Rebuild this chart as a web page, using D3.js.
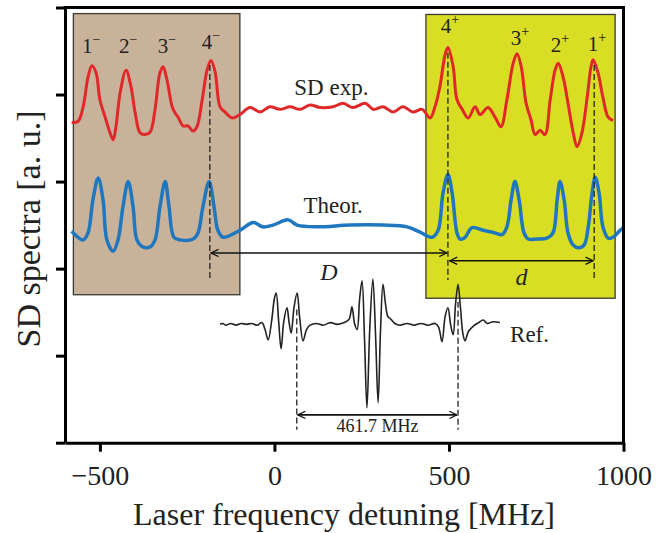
<!DOCTYPE html>
<html><head><meta charset="utf-8">
<script src="https://cdn.jsdelivr.net/npm/d3@7"></script>
<style>
html,body{margin:0;padding:0;background:#fff;}
svg text{font-family:"Liberation Serif","Times New Roman",serif !important;fill:#222;}
</style></head>
<body><svg id="c" width="656" height="533"></svg>
<script>
// ---- data (MHz, a.u.) ----
const xTicks = [-500, 0, 500, 1000];
const yTicks = [0, 1, 2, 3, 4, 5];

const sdExp = [[-581,3.68],[-563,3.69],[-548,3.86],[-534,4.20],[-523,4.33],[-511,4.25],[-500,3.94],[-485,3.74],[-471,3.56],[-462,3.48],[-454,3.63],[-442,4.02],[-425,4.28],[-411,4.09],[-399,3.79],[-385,3.56],[-371,3.54],[-356,3.57],[-342,3.83],[-328,4.25],[-319,4.32],[-308,4.17],[-293,3.86],[-285,3.79],[-276,3.74],[-262,3.64],[-248,3.64],[-233,3.58],[-222,3.63],[-207,3.94],[-193,4.28],[-182,4.39],[-170,4.26],[-156,3.86],[-142,3.80],[-121,3.73],[-99,3.77],[-70,3.85],[-41,3.80],[-13,3.86],[16,3.83],[45,3.86],[73,3.83],[102,3.88],[131,3.85],[168,3.86],[197,3.90],[225,3.85],[260,3.90],[283,3.83],[311,3.86],[340,3.80],[368,3.86],[397,3.80],[423,3.83],[446,3.73],[460,3.86],[474,4.09],[489,4.46],[497,4.54],[512,4.32],[523,3.94],[538,3.83],[555,3.73],[575,3.86],[589,3.77],[612,3.85],[632,3.74],[649,3.63],[666,3.94],[684,4.36],[695,4.47],[707,4.32],[721,3.90],[735,3.71],[747,3.54],[761,3.59],[775,3.54],[790,3.94],[804,4.28],[813,4.36],[827,4.20],[841,3.90],[856,3.56],[867,3.40],[881,3.56],[896,3.97],[907,4.32],[913,4.40],[927,4.25],[941,3.97],[956,3.74],[970,3.70]];

const theor = [[-581,2.43],[-548,2.33],[-534,2.41],[-520,2.79],[-505,3.04],[-491,2.79],[-480,2.33],[-462,2.20],[-448,2.33],[-434,2.71],[-419,3.00],[-405,2.71],[-394,2.33],[-377,2.25],[-356,2.25],[-342,2.33],[-328,2.71],[-313,3.00],[-302,2.71],[-288,2.36],[-271,2.33],[-233,2.34],[-219,2.41],[-205,2.71],[-187,3.00],[-173,2.71],[-162,2.44],[-147,2.36],[-99,2.44],[-61,2.53],[-33,2.48],[-4,2.50],[39,2.56],[65,2.50],[122,2.48],[217,2.50],[311,2.50],[380,2.48],[417,2.42],[452,2.36],[469,2.44],[483,2.87],[497,3.08],[509,2.87],[523,2.41],[532,2.34],[546,2.36],[566,2.47],[598,2.44],[632,2.41],[652,2.39],[666,2.48],[678,2.79],[689,3.00],[701,2.79],[715,2.41],[727,2.34],[752,2.34],[781,2.35],[798,2.41],[810,2.79],[818,3.00],[830,2.79],[841,2.41],[856,2.27],[870,2.24],[887,2.27],[899,2.48],[910,2.87],[919,3.05],[930,2.87],[941,2.48],[956,2.35],[970,2.36],[990,2.44],[1000,2.47]];

const refSpec = [[-156,1.36],[-148,1.37],[-140,1.35],[-125,1.37],[-110,1.35],[-95,1.37],[-80,1.36],[-65,1.37],[-50,1.35],[-36,1.38],[-27,1.30],[-18,1.18],[-8,1.40],[0,1.66],[5,1.72],[12,1.40],[19,1.08],[27,1.40],[36,1.55],[42,1.38],[48,1.26],[56,1.55],[65,1.72],[72,1.45],[82,1.17],[92,1.30],[102,1.35],[120,1.37],[140,1.35],[160,1.38],[180,1.36],[200,1.38],[214,1.42],[222,1.56],[230,1.36],[237,1.30],[244,1.65],[251,1.86],[258,1.20],[265,0.40],[273,1.30],[282,1.88],[290,1.20],[297,0.46],[304,1.30],[311,1.82],[318,1.60],[325,1.45],[331,1.43],[345,1.37],[360,1.35],[380,1.37],[400,1.35],[420,1.37],[440,1.35],[460,1.37],[470,1.33],[480,1.16],[489,1.45],[497,1.55],[505,1.35],[512,1.24],[519,1.60],[526,1.82],[533,1.55],[540,1.25],[546,1.17],[556,1.28],[570,1.34],[585,1.38],[598,1.41],[610,1.37],[626,1.39],[646,1.38]];

const boxMinus = [-576, -99, 1.70, 4.93];   // MHz from, MHz to, a.u. bottom, a.u. top
const boxPlus  = [434, 976, 1.66, 4.92];

const labelsMinus = ["1","2","3","4"];
const labelsMinusX = [-525, -419, -308, -182];
const labelsMinusY = [4.48, 4.48, 4.48, 4.52];
const labelsPlus = ["4","3","2","1"];
const labelsPlusX = [503, 703, 818, 924];
const labelsPlusY = [4.71, 4.57, 4.49, 4.50];

// dashed markers: [MHz, a.u. top, a.u. bottom]
const markers = [[-185,4.34,1.89],[497,4.48,1.87],[916,4.34,1.87],[64,1.53,0.15],[526,1.62,0.15]];
// spacing arrows: [from MHz, to MHz, a.u.]
const spanD = [-185, 497, 2.18];
const spand = [499, 916, 2.09];
const spanRef = [64, 526, 0.32];
const refSpacing = "461.7 MHz";

// ---- drawing ----
const FONT = '"Liberation Serif","Times New Roman",serif';
const svg = d3.select("#c");
const x = d3.scaleLinear().domain([-600, 1000]).range([65, 623.5]);
const y = d3.scaleLinear().domain([0, 5]).range([442.7, 7.5]);

svg.append("rect").attr("width",656).attr("height",533).attr("fill","#fff");

const defs = svg.append("defs");
defs.append("marker").attr("id","ah").attr("viewBox","0 0 10 10")
  .attr("refX",9.5).attr("refY",5).attr("markerWidth",9).attr("markerHeight",9)
  .attr("markerUnits","userSpaceOnUse").attr("orient","auto-start-reverse")
  .append("path").attr("d","M1,1 L9.5,5 L1,9").attr("fill","none").attr("stroke","#111").attr("stroke-width",1.4);

function box(b, fill){
  svg.append("rect").attr("x",x(b[0])).attr("y",y(b[3]))
    .attr("width",x(b[1])-x(b[0])).attr("height",y(b[2])-y(b[3]))
    .attr("fill",fill).attr("stroke","#3a3a30").attr("stroke-width",1.3);
}
box(boxMinus, "#c8b39a");
box(boxPlus, "#d9de24");

const line = d3.line().x(d=>x(d[0])).y(d=>y(d[1])).curve(d3.curveCatmullRom.alpha(0.5));
svg.append("path").datum(sdExp).attr("d",line).attr("fill","none").attr("stroke","#e0282a").attr("stroke-width",3).attr("stroke-linejoin","round");
svg.append("path").datum(theor).attr("d",line).attr("fill","none").attr("stroke","#1f78bf").attr("stroke-width",3.5).attr("stroke-linejoin","round");
svg.append("path").datum(refSpec).attr("d",line).attr("fill","none").attr("stroke","#222").attr("stroke-width",1.6).attr("stroke-linejoin","round");

// dashed lines
svg.selectAll("line.mk").data(markers).join("line").attr("class","mk")
  .attr("x1",d=>x(d[0])).attr("x2",d=>x(d[0])).attr("y1",d=>y(d[1])).attr("y2",d=>y(d[2]))
  .attr("stroke","#222").attr("stroke-width",1.3).attr("stroke-dasharray","6,3");

// arrows
[spanD, spand, spanRef].forEach(s=>{
  svg.append("line").attr("x1",x(s[0])+1).attr("x2",x(s[1])-1).attr("y1",y(s[2])).attr("y2",y(s[2]))
    .attr("stroke","#111").attr("stroke-width",1.6)
    .attr("marker-start","url(#ah)").attr("marker-end","url(#ah)");
});

// axes
const ax = svg.append("g").attr("transform",`translate(0,${y(0)})`)
  .call(d3.axisBottom(x).tickValues(xTicks).tickSize(9).tickSizeOuter(0).tickFormat(d3.format("d")))
  .attr("font-family",FONT);
ax.select(".domain").attr("stroke","#000").attr("stroke-width",3);
ax.selectAll(".tick line").attr("stroke","#000").attr("stroke-width",3);
ax.selectAll(".tick text").attr("y",42).attr("dy",0).style("font-size","28px").style("font-family",FONT).attr("fill","#222");

const ay = svg.append("g").attr("transform",`translate(${x(-600)},0)`)
  .call(d3.axisLeft(y).tickValues(yTicks).tickSize(9).tickSizeOuter(0).tickFormat(""));
ay.select(".domain").attr("stroke","#000").attr("stroke-width",3);
ay.selectAll(".tick line").attr("stroke","#000").attr("stroke-width",3);

svg.append("line").attr("x1",x(-600)).attr("x2",x(1000)).attr("y1",y(5)).attr("y2",y(5)).attr("stroke","#000").attr("stroke-width",3).attr("stroke-linecap","square");
svg.append("line").attr("x1",x(1000)).attr("x2",x(1000)).attr("y1",y(5)).attr("y2",y(0)).attr("stroke","#000").attr("stroke-width",3).attr("stroke-linecap","square");

// axis titles
svg.append("text").attr("x",344).attr("y",525).attr("text-anchor","middle").style("font-family",FONT).style("font-size","32px").text("Laser frequency detuning [MHz]");
svg.append("text").attr("transform","translate(40,229) rotate(-90)").attr("text-anchor","middle").style("font-family",FONT).style("font-size","34px").text("SD spectra [a. u.]");

// peak labels
function peakLabel(n, sign, mx, my){
  const t = svg.append("text").attr("x",x(mx)).attr("y",y(my)).attr("text-anchor","middle").style("font-family",FONT).style("font-size","21px");
  t.append("tspan").text(n);
  t.append("tspan").attr("dy",-9).style("font-size","14px").text(sign);
}
labelsMinus.forEach((n,i)=>peakLabel(n,"\u2212",labelsMinusX[i],labelsMinusY[i]));
labelsPlus.forEach((n,i)=>peakLabel(n,"+",labelsPlusX[i],labelsPlusY[i]));

// trace labels
function lbl(tx, mx, my, size, anchor, italic){
  svg.append("text").attr("x",x(mx)).attr("y",y(my)).attr("text-anchor",anchor)
    .style("font-family",FONT).style("font-size",size+"px").style("font-style",italic?"italic":"normal").text(tx);
}
lbl("SD exp.", 163, 4.0, 23, "middle", false);
lbl("Theor.", 168, 2.64, 23, "middle", false);
lbl("Ref.", 675, 1.16, 23, "start", false);
lbl("D", (spanD[0]+spanD[1])/2, 1.87, 24, "middle", true);
lbl("d", (spand[0]+spand[1])/2, 1.81, 24, "middle", true);
lbl(refSpacing, (spanRef[0]+spanRef[1])/2, 0.12, 18, "middle", false);
</script></body></html>
